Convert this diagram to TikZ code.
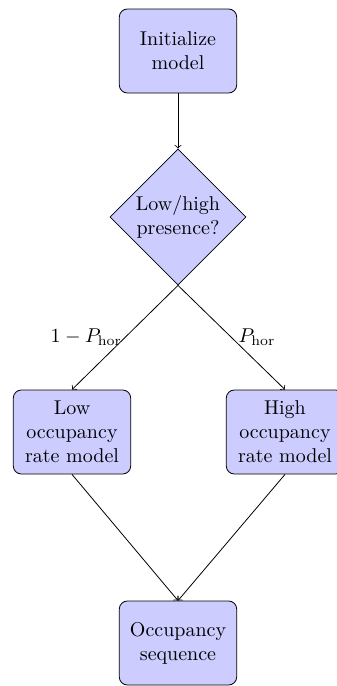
\documentclass[tikz,border=0pt]{standalone}
\usetikzlibrary{shapes.geometric}
\usetikzlibrary{positioning}

\begin{document}
\begin{tikzpicture}[
		node distance=83pt,
		every text node part/.style={align=center},
		block/.style={draw, fill=blue!20, rounded corners, text width=5.2em, minimum height=4.2em},
		decision/.style={diamond, draw, fill=blue!20, aspect=1, inner sep=0pt, minimum size=68pt, text width=4.6em}
	]

	\useasboundingbox (0,0) rectangle (168.5pt,-343pt);

	\node[block] (init) at (89pt,-25.5pt) {Initialize model};
	\node[decision, below of=init] (presence) {Low/high presence?};
	\node[block, below of=presence, node distance=107.5pt, xshift=-53pt] (low) {Low occupancy rate model};
	\node[block, below of=presence, node distance=107.5pt, xshift=53.5pt] (high) {High occupancy rate model};
	\node[block, below of=presence, node distance=213pt] (seq) {Occupancy sequence};

	\draw[->] (init) -- (presence);
	\draw[->] (presence.south) -- node[left, xshift=2pt] {$1-P_{\mathrm{hor}}$} (low.north);
	\draw[->] (presence.south) -- node[right] {$P_{\mathrm{hor}}$} (high.north);
	\draw[->] (low.south) -- (seq.north);
	\draw[->] (high.south) -- (seq.north);
\end{tikzpicture}
\end{document}
